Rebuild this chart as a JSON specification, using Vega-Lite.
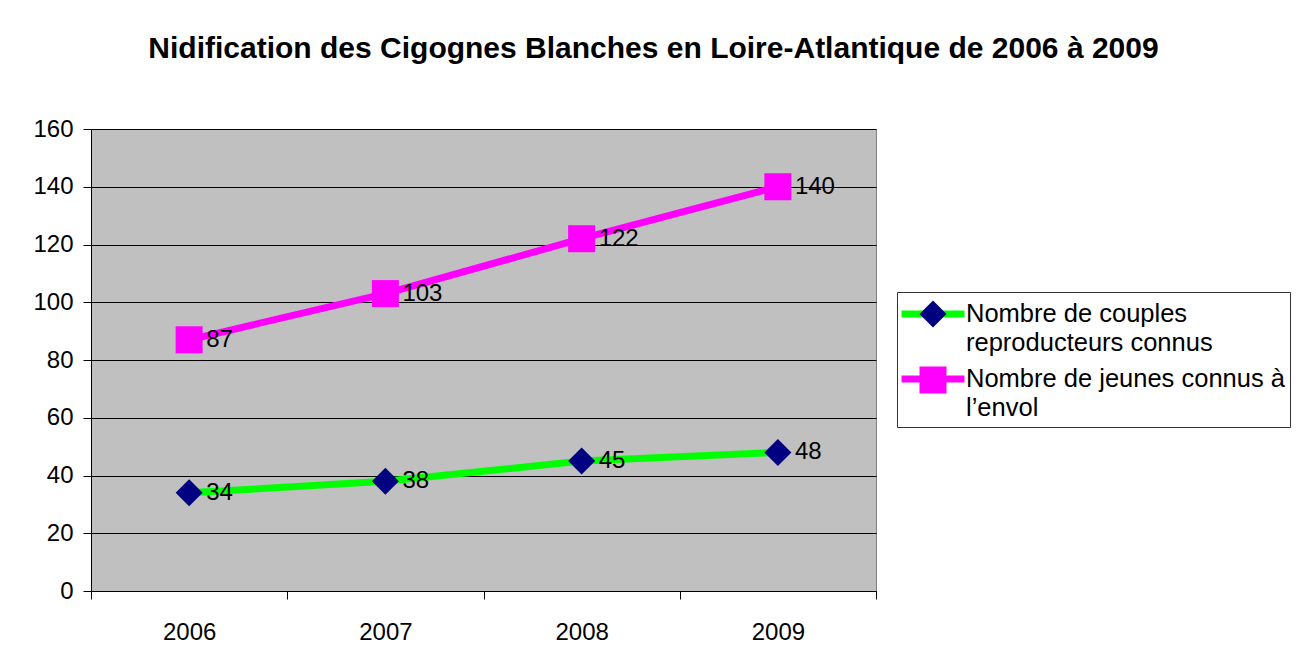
{
  "$schema": "https://vega.github.io/schema/vega-lite/v6.json",
  "autosize": "none",
  "padding": {"left": 91, "top": 129, "right": 430, "bottom": 76},
  "width": 785,
  "height": 462,
  "background": "white",
  "config": {
    "view": {"fill": "#C0C0C0", "stroke": "#808080", "strokeWidth": 1},
    "font": "Liberation Sans",
    "style": {"guide-label": {"lineHeight": 29}}
  },
  "title": {
    "text": "Nidification des Cigognes Blanches en Loire-Atlantique de 2006 à 2009",
    "font": "Liberation Sans",
    "fontSize": 30,
    "fontWeight": "bold",
    "color": "black",
    "anchor": "middle",
    "frame": "group",
    "dx": 170,
    "offset": 53
  },
  "data": {
    "values": [
      {"annee": "2006", "serie": "Nombre de couples reproducteurs connus", "valeur": 34},
      {"annee": "2007", "serie": "Nombre de couples reproducteurs connus", "valeur": 38},
      {"annee": "2008", "serie": "Nombre de couples reproducteurs connus", "valeur": 45},
      {"annee": "2009", "serie": "Nombre de couples reproducteurs connus", "valeur": 48},
      {"annee": "2006", "serie": "Nombre de jeunes connus à l’envol", "valeur": 87},
      {"annee": "2007", "serie": "Nombre de jeunes connus à l’envol", "valeur": 103},
      {"annee": "2008", "serie": "Nombre de jeunes connus à l’envol", "valeur": 122},
      {"annee": "2009", "serie": "Nombre de jeunes connus à l’envol", "valeur": 140}
    ]
  },
  "encoding": {
    "x": {
      "field": "annee",
      "type": "ordinal",
      "bandPosition": 0.5,
      "scale": {"type": "band", "paddingInner": 0, "paddingOuter": 0},
      "axis": {
        "title": null,
        "labelAngle": 0,
        "tickBand": "extent",
        "tickSize": 8,
        "tickColor": "black",
        "domainColor": "black",
        "labelFontSize": 24,
        "labelFont": "Liberation Sans",
        "labelColor": "black",
        "labelPadding": 21,
        "labelBaseline": "top",
        "grid": false
      }
    },
    "y": {
      "field": "valeur",
      "type": "quantitative",
      "scale": {"domain": [0, 160], "nice": false},
      "axis": {
        "title": null,
        "values": [0, 20, 40, 60, 80, 100, 120, 140, 160],
        "tickSize": 8,
        "tickColor": "black",
        "domainColor": "black",
        "labelFontSize": 24,
        "labelFont": "Liberation Sans",
        "labelColor": "black",
        "labelPadding": 10,
        "grid": true,
        "gridColor": "#000000",
        "gridOpacity": 1,
        "gridWidth": 1
      }
    }
  },
  "layer": [
    {
      "mark": {"type": "line", "strokeWidth": 7},
      "encoding": {
        "stroke": {
          "field": "serie",
          "type": "nominal",
          "scale": {"range": ["#00FF00", "#FF00FF"]},
          "legend": {
            "orient": "none",
            "legendX": 806,
            "legendY": 163,
            "title": null,
            "symbolType": "M-2.33,0L2.33,0",
            "symbolSize": 729,
            "symbolStrokeWidth": 7,
            "symbolOffset": 14,
            "labelFontSize": 25.5,
            "labelFont": "Liberation Sans",
            "labelColor": "black",
            "labelLimit": 600,
            "labelOffset": 16,
            "labelExpr": "datum.value == 'Nombre de couples reproducteurs connus' ? ['Nombre de couples', 'reproducteurs connus'] : ['Nombre de jeunes connus à', 'l’envol']",
            "strokeColor": "#333333",
            "padding": 5,
            "rowPadding": 5,
            "zindex": 1
          }
        }
      }
    },
    {
      "mark": {"type": "point", "filled": true, "size": 729, "opacity": 1},
      "encoding": {
        "fill": {
          "field": "serie",
          "type": "nominal",
          "scale": {"domain": ["Nombre de couples reproducteurs connus", "Nombre de jeunes connus à l’envol"], "range": ["#000080", "#FF00FF"]},
          "legend": {
            "orient": "none",
            "legendX": 806,
            "legendY": 163,
            "title": null,
            "symbolSize": 729,
            "symbolStrokeWidth": 7,
            "symbolStrokeColor": "transparent",
            "symbolOffset": 14,
            "labelFontSize": 25.5,
            "labelFont": "Liberation Sans",
            "labelColor": "black",
            "labelOpacity": 0,
            "labelLimit": 600,
            "labelOffset": 16,
            "labelExpr": "datum.value == 'Nombre de couples reproducteurs connus' ? ['Nombre de couples', 'reproducteurs connus'] : ['Nombre de jeunes connus à', 'l’envol']",
            "padding": 5,
            "rowPadding": -5,
            "zindex": 2
          }
        },
        "shape": {
          "field": "serie",
          "type": "nominal",
          "scale": {"domain": ["Nombre de couples reproducteurs connus", "Nombre de jeunes connus à l’envol"], "range": ["diamond", "square"]},
          "legend": {
            "orient": "none",
            "legendX": 806,
            "legendY": 163,
            "title": null,
            "symbolSize": 729,
            "symbolStrokeWidth": 7,
            "symbolStrokeColor": "transparent",
            "symbolOffset": 14,
            "labelFontSize": 25.5,
            "labelFont": "Liberation Sans",
            "labelColor": "black",
            "labelOpacity": 0,
            "labelLimit": 600,
            "labelOffset": 16,
            "labelExpr": "datum.value == 'Nombre de couples reproducteurs connus' ? ['Nombre de couples', 'reproducteurs connus'] : ['Nombre de jeunes connus à', 'l’envol']",
            "padding": 5,
            "rowPadding": -5,
            "zindex": 2
          }
        }
      }
    },
    {
      "mark": {"type": "text", "align": "left", "baseline": "middle", "dx": 17, "fontSize": 24, "font": "Liberation Sans", "color": "black"},
      "encoding": {
        "text": {"field": "valeur", "type": "quantitative"}
      }
    }
  ]
}
